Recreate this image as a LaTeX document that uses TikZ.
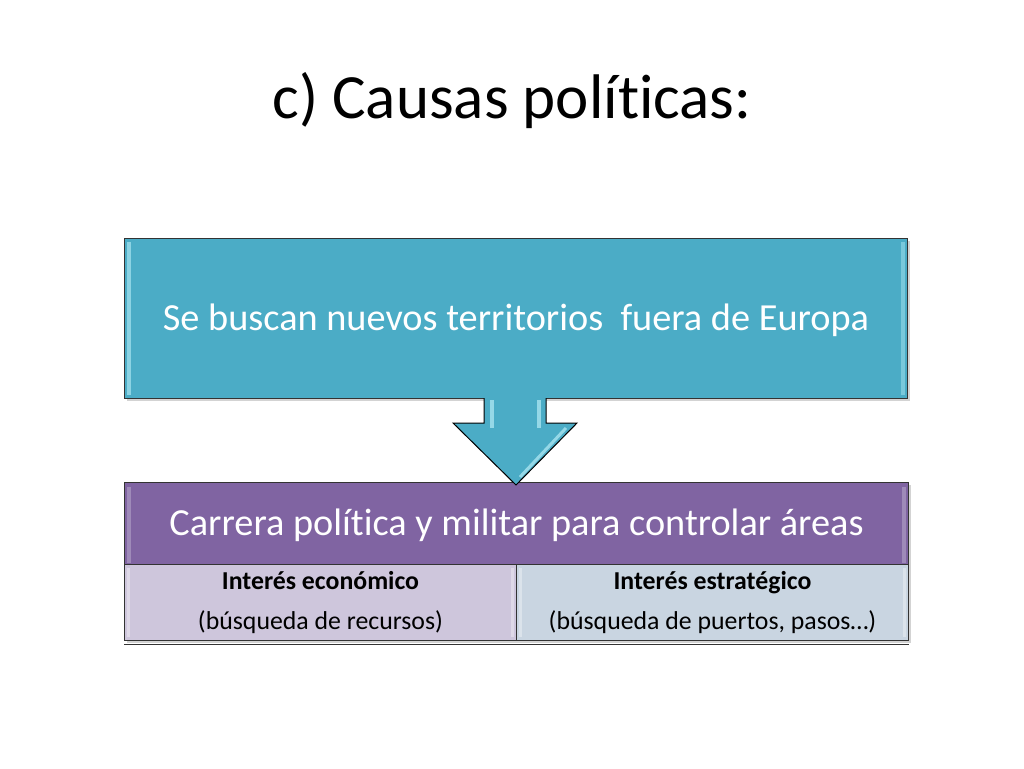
\documentclass[tikz,border=0pt]{standalone}
\usepackage{fontspec}
\setmainfont[Ligatures={NoCommon}]{Carlito}
\usetikzlibrary{calc,shadows}
\definecolor{teal}{HTML}{4BACC6}
\definecolor{violet}{HTML}{8064A2}
\definecolor{lilac}{HTML}{CEC6DC}
\definecolor{bluegray}{HTML}{C9D5E1}
\definecolor{hilite}{HTML}{A8E4F0}
\tikzset{
  box/.style={draw=black!80, line width=1pt, inner sep=0pt, anchor=north west,
    drop shadow={shadow xshift=2pt, shadow yshift=-2pt, opacity=0.35}},
  bigtext/.style={text=white, font=\fontsize{38.3}{42}\selectfont},
  subtext/.style={text=black, font=\fontsize{25.8}{40}\selectfont, align=center},
}
\begin{document}
\begin{tikzpicture}[x=1pt,y=-1pt]
\useasboundingbox (0,0) rectangle (1024,768);
% title
\node (title) at (512,101) {\fontsize{63}{70}\selectfont c) Causas políticas:};
% top box
\node[box, fill=teal, minimum width=783pt, minimum height=160pt] (top) at (124,238) {};
\node[bigtext] (toptext) at ($(top.center)+(0,2)$) {Se buscan nuevos territorios\ \ fuera de Europa};
\fill[hilite, opacity=0.7] ($(top.north west)+(3,4)$) rectangle ($(top.south west)+(7,-4)$);
\fill[hilite, opacity=0.5] ($(top.north east)+(-7,4)$) rectangle ($(top.south east)+(-3,-4)$);
% purple box
\node[box, fill=violet, minimum width=784pt, minimum height=82pt] (mid) at (124,482) {};
\node[bigtext] (midtext) at ($(mid.center)+(0,2)$) {Carrera política y militar para controlar áreas};
\fill[white, opacity=0.25] ($(mid.north west)+(3,5)$) rectangle ($(mid.south west)+(7,-2)$);
\fill[white, opacity=0.25] ($(mid.north east)+(-7,5)$) rectangle ($(mid.south east)+(-3,-2)$);
% bottom sub-boxes
\node[box, fill=lilac, minimum width=392pt, minimum height=76pt] (l) at (124,564) {};
\node[box, fill=bluegray, minimum width=392pt, minimum height=76pt] (r) at (516,564) {};
\fill[white, opacity=0.35] ($(l.north west)+(3,4)$) rectangle ($(l.south west)+(6,-4)$);
\fill[white, opacity=0.35] ($(l.north east)+(-6,4)$) rectangle ($(l.south east)+(-3,-4)$);
\fill[white, opacity=0.35] ($(r.north west)+(3,4)$) rectangle ($(r.south west)+(6,-4)$);
\fill[white, opacity=0.35] ($(r.north east)+(-6,4)$) rectangle ($(r.south east)+(-3,-4)$);
\draw[black!80, line width=0.8pt] ($(l.south west)+(0,3)$) -- ($(r.south east)+(0,3)$);
\node[subtext] (ltext) at ($(l.center)+(0,0)$) {\textbf{Interés económico}\\(búsqueda de recursos)};
\node[subtext] (rtext) at ($(r.center)+(0,0)$) {\textbf{Interés estratégico}\\(búsqueda de puertos, pasos…)};
% down arrow from top box to purple box
\coordinate (tip) at (516,485);
\draw[black, line width=1pt, fill=teal, line join=miter]
  (484,398) -- (484,423) -- (453,423) -- (tip) -- (577,423) -- (546,423) -- (546,398);
\fill[teal] (485,396) rectangle (545,400);
\fill[hilite, opacity=0.8] (490,400) rectangle (494,428);
\fill[hilite, opacity=0.8] (537,400) rectangle (541,428);
\draw[hilite, line width=3pt, opacity=0.8] (566,428) -- (520,477);
\end{tikzpicture}
\end{document}
